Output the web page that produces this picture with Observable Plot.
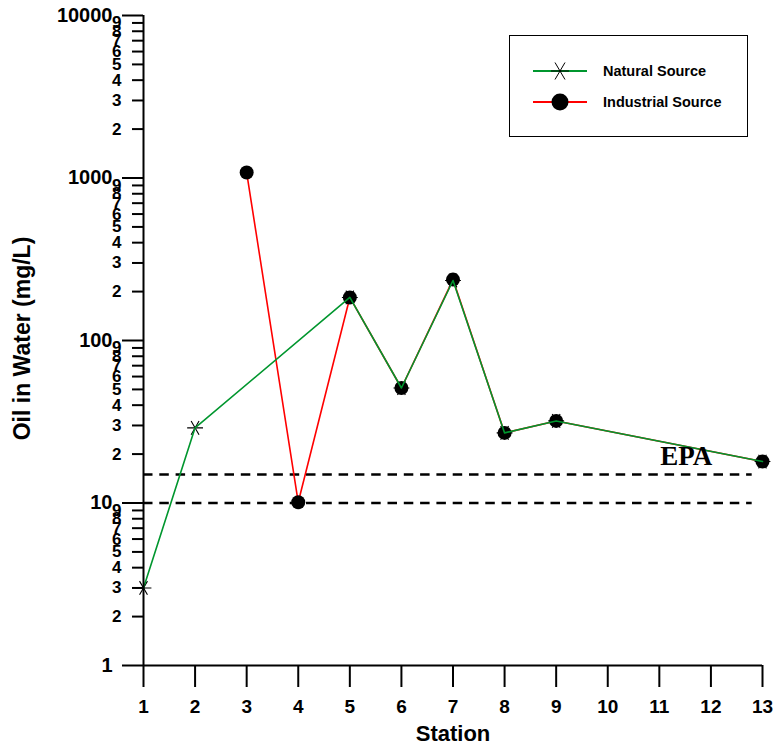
<!DOCTYPE html>
<html>
<head>
<meta charset="utf-8">
<script src="https://cdn.jsdelivr.net/npm/d3@7"></script>
<script src="https://cdn.jsdelivr.net/npm/@observablehq/plot@0.6"></script>
<style>
  html, body { margin: 0; padding: 0; background: #fff; }
  #wrap { position: relative; width: 774px; height: 748px; font-family: "Liberation Sans", Arial, sans-serif; }
  #legend { position: absolute; left: 509px; top: 35px; width: 237px; height: 100px; border: 1.5px solid #000; background: #fff; }
</style>
</head>
<body>
<div id="wrap"></div>
<script>
// ---- data ----
const stations = [1, 2, 3, 4, 5, 6, 7, 8, 9, 10, 11, 12, 13];
const naturalStations = [1, 2, 5, 6, 7, 8, 9, 13];
const naturalValues   = [3.0, 29, 184, 51, 234, 27, 32, 18];
const industrialStations = [3, 4, 5, 6, 7, 8, 9, 13];
const industrialValues   = [1080, 10.1, 184, 51, 237, 27, 32, 18];
const epaLevels = [10, 15];
const majorTicks = [1, 10, 100, 1000, 10000];
const minorMultipliers = [2, 3, 4, 5, 6, 7, 8, 9];
const seriesNames = ["Natural Source", "Industrial Source"];
const colors = { natural: "#00962e", industrial: "#ff0000" };

const natural = naturalStations.map((s, i) => ({ station: s, value: naturalValues[i] }));
const industrial = industrialStations.map((s, i) => ({ station: s, value: industrialValues[i] }));
const minorTicks = majorTicks.slice(0, -1).flatMap(d => minorMultipliers.map(m => ({ value: d * m, label: String(m) })));

const font = "Liberation Sans, Arial, sans-serif";

const chart = Plot.plot({
  width: 774,
  height: 748,
  marginLeft: 143,
  marginRight: 12,
  marginTop: 15,
  marginBottom: 83,
  style: { fontFamily: font, background: "#fff", overflow: "visible" },
  x: { domain: [1, 13] },
  y: { type: "log", domain: [1, 10000] },
  marks: [
    Plot.ruleY(epaLevels, { x1: 1, x2: 12.8, stroke: "#000", strokeWidth: 2.5, strokeDasharray: "9.5,6.8" }),
    Plot.line(industrial, { x: "station", y: "value", stroke: colors.industrial, strokeWidth: 1.6 }),
    Plot.dot(natural, { x: "station", y: "value", symbol: "asterisk", r: 7.5, rotate: 90, stroke: "#000", strokeWidth: 1.1 }),
    Plot.dot(industrial, { x: "station", y: "value", r: 7, fill: "#000", stroke: "none" }),
    Plot.line(natural, { x: "station", y: "value", stroke: colors.natural, strokeWidth: 1.6 }),
    Plot.text(["EPA"], { x: 11.52, y: 19.3, fontFamily: "Liberation Serif, Times New Roman, serif", fontWeight: "bold", fontSize: 27, fill: "#000" }),
    // axis lines
    Plot.ruleX([1], { y1: 1, y2: 10000, stroke: "#000", strokeWidth: 2 }),
    Plot.ruleY([1], { x1: 1, x2: 13, stroke: "#000", strokeWidth: 2 }),
    // x axis
    Plot.axisX(stations, { tickSize: 22, tickPadding: 12, strokeWidth: 2, fontSize: 19, fontWeight: "bold", label: null, tickFormat: d => String(d) }),
    Plot.text(["Station"], { frameAnchor: "bottom", dy: 68, textAnchor: "middle", lineAnchor: "middle", fontSize: 22, fontWeight: "bold", fill: "#000" }),
    // y axis: minor ticks and labels
    Plot.axisY(minorTicks.map(d => d.value), { tickSize: 11, strokeWidth: 2, text: null, label: null }),
    Plot.text(minorTicks, { y: "value", text: "label", frameAnchor: "left", dx: -22, textAnchor: "end", fontSize: 17, fontWeight: "bold", fill: "#000" }),
    // y axis: major ticks and labels
    Plot.axisY(majorTicks, { tickSize: 21, tickPadding: 10, strokeWidth: 2, fontSize: 20, fontWeight: "bold", label: null, tickFormat: d => String(d) }),
    Plot.text(["Oil in Water (mg/L)"], { frameAnchor: "left", dx: -121, dy: -2, rotate: -90, textAnchor: "middle", lineAnchor: "middle", fontSize: 23, fontWeight: "bold", fill: "#000" })
  ]
});

const wrap = document.getElementById("wrap");
wrap.appendChild(chart);

// legend (positioned over the plot area, upper right)
const legend = document.createElement("div");
legend.id = "legend";
legend.innerHTML = `
<svg width="237" height="100" style="position:absolute;left:0;top:0">
  <g transform="translate(0,35)">
    <line x1="23" x2="77" y1="0" y2="0" stroke="${colors.natural}" stroke-width="2"/>
    <g stroke="#000" stroke-width="1" transform="translate(50,0)">
      <line x1="-9" x2="9" y1="0" y2="0"/>
      <line x1="-5" x2="5" y1="-8.5" y2="8.5"/>
      <line x1="5" x2="-5" y1="-8.5" y2="8.5"/>
    </g>
    <text x="93" y="0" dy="0.35em" font-family="${font}" font-weight="bold" font-size="14.5">${seriesNames[0]}</text>
  </g>
  <g transform="translate(0,66)">
    <line x1="23" x2="77" y1="0" y2="0" stroke="${colors.industrial}" stroke-width="2"/>
    <circle cx="50" cy="0" r="8.5" fill="#000"/>
    <text x="93" y="0" dy="0.35em" font-family="${font}" font-weight="bold" font-size="14.5">${seriesNames[1]}</text>
  </g>
</svg>`;
wrap.appendChild(legend);
</script>
</body>
</html>
